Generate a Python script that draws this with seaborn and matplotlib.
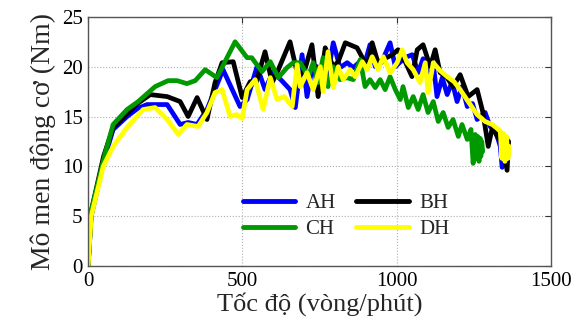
import numpy as np
import pandas as pd
import matplotlib
matplotlib.use("Agg")
import matplotlib.pyplot as plt
import seaborn as sns

# Torque vs. speed curves for four configurations
ah_rpm = [0, 10, 50, 81, 126, 160, 191, 256, 298, 324, 353, 385, 437, 492, 515, 547, 573, 599, 630, 654,
          671, 693, 709, 725, 742, 760, 778, 794, 816, 839, 859, 880, 895, 913, 930, 950, 978, 995, 1012,
          1033, 1050, 1069, 1085, 1108, 1118, 1130, 1147, 1163, 1179, 1195, 1211, 1228, 1245, 1260, 1286,
          1302, 1320, 1335, 1341, 1350, 1357]
ah_nm = [0, 5, 10.5, 13.7, 15.0, 15.8, 16.2, 16.2, 14.2, 14.4, 14.2, 15.7, 19.7, 16.0, 16.7, 20.0, 17.7, 19.5,
         18.5, 17.7, 15.9, 21.2, 17.0, 19.8, 20.0, 18.0, 19.5, 22.4, 19.9, 20.4, 19.9, 20.5, 20.2, 22.2, 20.0,
         20.4, 22.4, 20.0, 20.5, 21.0, 21.2, 19.4, 20.8, 18.7, 20.3, 17.0, 18.9, 17.2, 18.5, 16.5, 18.0, 16.0,
         16.3, 14.7, 15.4, 14.0, 13.5, 12.0, 9.9, 12.5, 12.7]

bh_rpm = [0, 10, 50, 81, 126, 160, 201, 256, 298, 324, 353, 385, 411, 434, 470, 499, 525, 545, 573, 596,
          616, 654, 680, 700, 725, 745, 768, 794, 810, 833, 871, 904, 920, 939, 960, 985, 1004, 1027, 1049,
          1066, 1085, 1108, 1124, 1140, 1160, 1182, 1205, 1231, 1260, 1278, 1296, 1310, 1325, 1340, 1357,
          1362]
bh_nm = [0, 5.5, 11, 13.9, 15.3, 16.3, 17.2, 17.0, 16.5, 15.0, 16.9, 14.7, 18.4, 20.4, 20.5, 16.9, 18.5, 18.5,
         21.5, 18.4, 19.7, 22.5, 19.0, 19.5, 22.2, 17.0, 21.9, 20.0, 20.5, 22.4, 21.9, 20.0, 22.4, 20.4, 20.8,
         21.2, 21.7, 20.5, 19.0, 21.7, 22.2, 20.0, 21.7, 19.4, 19.0, 18.0, 19.2, 17.0, 17.7, 15.5, 12.0, 14.0,
         13.0, 12.5, 9.6, 12.5]

ch_rpm = [0, 10, 55, 81, 126, 162, 217, 259, 288, 320, 347, 379, 417, 476, 515, 530, 563, 590, 616, 644,
          664, 687, 713, 729, 745, 761, 777, 794, 816, 838, 859, 881, 897, 913, 930, 946, 962, 978, 995,
          1011, 1020, 1037, 1053, 1069, 1085, 1101, 1118, 1134, 1150, 1166, 1182, 1199, 1211, 1228, 1240,
          1247, 1254, 1258, 1262, 1266, 1270, 1272, 1275, 1278]
ch_nm = [0, 5.5, 11.3, 14.2, 15.7, 16.5, 18.0, 18.6, 18.6, 18.3, 18.6, 19.7, 18.9, 22.5, 20.9, 20.9, 19.5,
         20.5, 18.9, 19.9, 20.4, 20.4, 19.0, 20.4, 18.4, 20.9, 18.0, 20.0, 18.7, 18.9, 18.7, 20.7, 18.0, 18.7,
         17.9, 18.7, 17.7, 19.0, 17.7, 16.7, 18.0, 15.9, 17.0, 15.7, 17.2, 15.4, 16.5, 14.5, 15.4, 13.9, 14.7,
         13.0, 14.2, 12.7, 13.7, 10.3, 13.2, 10.8, 13.0, 10.5, 12.8, 11.0, 12.5, 11.5]

dh_rpm = [0, 10, 49, 81, 126, 178, 217, 256, 292, 320, 356, 385, 411, 434, 460, 480, 499, 515, 541, 567,
          590, 612, 635, 661, 677, 687, 709, 729, 752, 761, 777, 794, 810, 826, 849, 865, 888, 904, 920,
          939, 956, 978, 1001, 1017, 1033, 1053, 1075, 1092, 1101, 1118, 1140, 1163, 1185, 1205, 1231, 1260,
          1286, 1309, 1325, 1335, 1340, 1345, 1350, 1355, 1360, 1364]
dh_nm = [0, 5.0, 10.0, 12.0, 13.9, 15.7, 15.9, 14.7, 13.2, 14.2, 14.0, 15.4, 17.4, 17.7, 15.0, 15.2, 14.8,
         17.7, 18.7, 15.7, 18.9, 16.7, 17.0, 16.0, 20.2, 18.0, 19.4, 17.7, 20.0, 17.5, 21.5, 17.9, 20.0, 18.7,
         19.7, 19.0, 20.5, 19.7, 21.0, 19.7, 21.0, 19.4, 20.4, 21.7, 20.4, 19.7, 18.4, 20.4, 17.4, 20.4, 19.6,
         19.0, 18.5, 17.7, 16.5, 15.2, 14.5, 14.2, 13.8, 13.5, 10.8, 13.3, 10.5, 13.0, 10.8, 12.0]

labels = ["AH", "BH", "CH", "DH"]
colors = ["#0000ff", "#000000", "#009a00", "#ffff00"]
palette = dict(zip(labels, colors))

frames = []
for name, xs, ys in zip(labels, [ah_rpm, bh_rpm, ch_rpm, dh_rpm], [ah_nm, bh_nm, ch_nm, dh_nm]):
    frames.append(pd.DataFrame({"rpm": xs, "torque": ys, "series": name}))
df = pd.concat(frames, ignore_index=True)

sns.set_style("white")
plt.rcParams["font.family"] = ["Liberation Serif", "DejaVu Serif"]

fig = plt.figure(figsize=(5.76, 3.24), dpi=100)
ax = fig.add_axes([0.153, 0.179, 0.804, 0.769])

sns.lineplot(data=df, x="rpm", y="torque", hue="series", palette=palette,
             sort=False, estimator=None, linewidth=3.4, ax=ax, legend=False)

ax.set_xlim(0, 1500)
ax.set_ylim(0, 25)
ax.set_xticks([0, 500, 1000, 1500])
ax.set_yticks([0, 5, 10, 15, 20, 25])
ax.grid(True, linestyle=":", color="#b0b0b0", linewidth=0.8)
ax.tick_params(direction="in", top=True, right=True, length=4, width=0.8, pad=4,
               colors="#333333", labelsize=15, labelcolor="black")
for sp in ax.spines.values():
    sp.set_color("#555555")
    sp.set_linewidth(1.0)

ax.set_xlabel("Tốc độ (vòng/phút)", fontsize=19, labelpad=1)
ax.set_ylabel("Mô men động cơ (Nm)", fontsize=20, labelpad=4)

# two-column legend, rows: AH/BH then CH/DH
order = ["AH", "CH", "BH", "DH"]
handles = [plt.Line2D([], [], color=palette[k], linewidth=3.5) for k in order]
ax.legend(handles, order, ncol=2, loc="center", bbox_to_anchor=(0.557, 0.2), frameon=False,
          fontsize=15, handlelength=2.5, columnspacing=1.0, labelspacing=0.3, handletextpad=0.5,
          borderpad=0.2)

fig.savefig("out.png", dpi=100)
